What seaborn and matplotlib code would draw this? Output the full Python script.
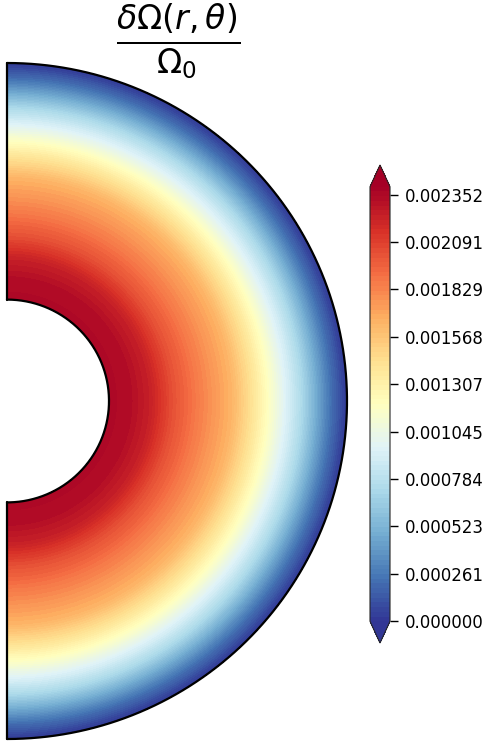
import numpy as np
import seaborn as sns
import matplotlib
matplotlib.use("Agg")
import matplotlib.pyplot as plt

# radial profile of the rotation perturbation (no theta dependence)
r_obs = [0.30, 0.36, 0.42, 0.48, 0.56, 0.66, 0.72, 0.77, 0.82, 0.87, 0.91, 0.95, 1.00]
domega = [0.002352, 0.002330, 0.002235, 0.002045, 0.001860, 0.001645, 0.001410,
          0.001175, 0.000940, 0.000705, 0.000470, 0.000235, 0.000000]
vmin, vmax = 0.0, 0.002352
level_top = 0.002396
cbar_ticks = np.linspace(vmin, vmax, 10)

sns.set_style("white")
plt.rcParams['font.family'] = ['DejaVu Sans']
plt.rcParams['text.color'] = 'black'
plt.rcParams['ytick.color'] = 'black'
cmap = sns.color_palette("RdYlBu_r", as_cmap=True)

# grid in (r, theta), theta = colatitude from the pole
theta = np.linspace(0, np.pi, 361)
R, T = np.meshgrid(np.array(r_obs), theta)
Z = np.tile(np.array(domega), (len(theta), 1))
X = R * np.sin(T)
Y = R * np.cos(T)

fig = plt.figure(figsize=(5, 7.5), dpi=100)
ax = fig.add_axes([7 / 500, 11 / 750, 340 / 500, 676 / 750])
levels = np.linspace(vmin, level_top, 93)
cf = ax.contourf(X, Y, Z, levels=levels, cmap=cmap, extend='both')

# outline of the meridional half-shell
t = np.linspace(0, np.pi, 400)
r_in, r_out = r_obs[0], r_obs[-1]
ax.plot(r_out * np.sin(t), r_out * np.cos(t), color='black', lw=1.6, clip_on=False)
ax.plot(r_in * np.sin(t), r_in * np.cos(t), color='black', lw=1.6, clip_on=False)
ax.plot([0, 0], [r_in, r_out], color='black', lw=1.6, clip_on=False)
ax.plot([0, 0], [-r_out, -r_in], color='black', lw=1.6, clip_on=False)
ax.set_xlim(0, 1)
ax.set_ylim(-1, 1)
ax.axis('off')

fig.text(178 / 500, 1 - 41.5 / 750, r'$\frac{\delta\Omega(r,\theta)}{\Omega_0}$',
         fontsize=34, ha='center', va='center', color='black')

cax = fig.add_axes([370 / 500, 1 - 643 / 750, 20 / 500, 478 / 750])
cb = fig.colorbar(cf, cax=cax, ticks=cbar_ticks, format='%.6f')
cb.ax.tick_params(labelsize=12, length=6, width=1, pad=5, colors='black')

fig.savefig("out.png", dpi=100)
